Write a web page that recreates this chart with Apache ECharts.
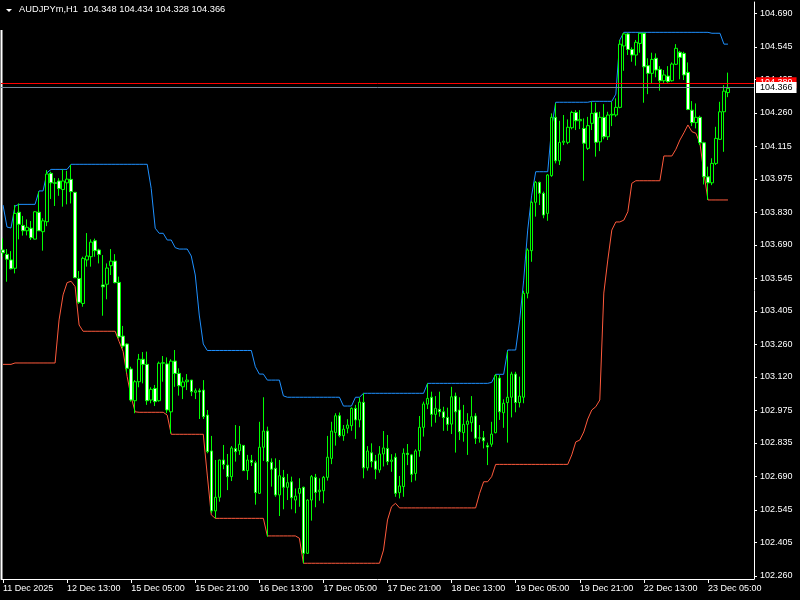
<!DOCTYPE html>
<html><head><meta charset="utf-8">
<script src="https://cdn.jsdelivr.net/npm/echarts@6/dist/echarts.min.js"></script>
<style>html,body{margin:0;padding:0;background:#000;}#c{width:800px;height:600px;}</style>
</head><body><div id="c"></div>
<script>
const symbolTitle = 'AUDJPYm,H1  104.348 104.434 104.328 104.366';
const tickLabels = ['11 Dec 2025','12 Dec 13:00','15 Dec 05:00','15 Dec 21:00','16 Dec 13:00','17 Dec 05:00','17 Dec 21:00','18 Dec 13:00','19 Dec 05:00','19 Dec 21:00','22 Dec 13:00','23 Dec 05:00'];
const yTickValues = [102.260,102.405,102.545,102.690,102.835,102.975,103.120,103.260,103.405,103.545,103.690,103.830,103.975,104.115,104.260,104.405,104.545,104.690];
const bidPrice = 104.366;
const askPrice = 104.389;

const opens = [103.668,103.649,103.625,103.589,103.831,103.774,103.751,103.762,103.715,103.831,103.747,103.790,103.999,103.958,103.966,103.929,103.958,103.973,103.917,103.545,
103.437,103.625,103.639,103.708,103.668,103.517,103.520,103.600,103.620,103.528,103.296,103.262,103.154,103.017,103.099,103.196,103.174,103.020,103.070,103.017,
103.179,103.176,102.969,103.188,103.135,103.077,103.099,103.106,103.053,103.060,103.063,102.955,102.800,102.541,102.600,102.761,102.739,102.689,102.811,102.801,
102.824,102.715,102.760,102.749,102.617,102.816,102.886,102.751,102.725,102.610,102.686,102.643,102.667,102.588,102.617,102.643,102.358,102.588,102.686,102.624,
102.628,102.686,102.768,102.880,102.952,102.866,102.898,102.909,102.984,102.934,103.010,102.727,102.792,102.757,102.718,102.787,102.811,102.755,102.773,102.620,
102.646,102.790,102.783,102.703,102.801,102.902,103.002,103.032,102.958,102.980,102.969,102.945,102.916,103.037,102.977,102.879,102.915,102.922,102.951,102.855,
102.857,102.823,102.829,102.879,103.115,102.965,103.009,103.032,103.132,103.009,103.032,103.481,103.665,103.874,103.960,103.913,103.826,103.989,104.241,104.053,
104.133,104.133,104.196,104.262,104.226,104.193,104.107,104.215,104.261,104.135,104.241,104.157,104.251,104.251,104.284,104.549,104.601,104.534,104.510,104.560,
104.604,104.464,104.431,104.496,104.448,104.399,104.419,104.399,104.470,104.522,104.517,104.435,104.272,104.218,104.241,104.131,103.984,103.958,104.042,104.146,
104.265,104.348];
const highs = [103.718,103.672,103.663,103.862,103.869,103.815,103.800,103.793,103.836,103.920,103.805,104.013,104.006,103.979,103.978,104.016,104.010,104.036,103.918,103.577,
103.639,103.741,103.714,103.717,103.673,103.646,103.610,103.672,103.650,103.553,103.340,103.265,103.164,103.106,103.219,103.227,103.229,103.075,103.085,103.186,
103.210,103.204,103.196,103.236,103.157,103.118,103.132,103.107,103.070,103.070,103.106,102.977,102.865,102.761,102.762,102.826,102.787,102.821,102.912,102.908,
102.825,102.783,102.783,102.758,102.926,103.032,102.905,102.768,102.768,102.761,102.718,102.701,102.689,102.638,102.682,102.646,102.591,102.696,102.701,102.682,
102.692,102.865,102.926,102.963,102.966,102.912,102.937,102.988,102.999,103.030,103.049,102.821,102.833,102.783,102.821,102.886,102.869,102.786,102.790,102.692,
102.811,102.830,102.787,102.807,102.951,103.013,103.092,103.056,103.037,103.056,102.991,102.987,103.077,103.052,103.032,102.999,102.963,103.037,102.963,102.912,
102.886,102.836,102.926,103.132,103.128,103.023,103.229,103.142,103.142,103.121,103.492,103.675,103.881,103.966,103.963,103.920,103.996,104.258,104.301,104.226,
104.251,104.232,104.269,104.272,104.272,104.236,104.243,104.308,104.304,104.265,104.298,104.265,104.308,104.323,104.575,104.606,104.606,104.543,104.575,104.606,
104.606,104.496,104.520,104.517,104.462,104.445,104.462,104.478,104.557,104.528,104.524,104.478,104.311,104.301,104.248,104.135,104.028,104.064,104.200,104.308,
104.380,104.434];
const lows = [103.639,103.531,103.584,103.567,103.714,103.730,103.731,103.711,103.714,103.750,103.665,103.771,103.888,103.858,103.902,103.855,103.865,103.869,103.547,103.435,
103.423,103.596,103.596,103.639,103.610,103.384,103.455,103.560,103.524,103.286,103.243,103.138,103.013,102.963,103.075,103.092,102.999,103.006,102.994,103.013,
103.099,102.963,102.876,103.077,103.039,103.024,103.063,103.037,103.024,102.938,102.938,102.790,102.531,102.509,102.581,102.721,102.631,102.670,102.754,102.783,
102.714,102.675,102.735,102.568,102.614,102.757,102.430,102.646,102.602,102.519,102.548,102.588,102.548,102.531,102.559,102.315,102.355,102.499,102.557,102.585,
102.574,102.672,102.743,102.823,102.859,102.844,102.876,102.887,102.852,102.902,102.682,102.715,102.729,102.678,102.706,102.733,102.739,102.710,102.602,102.595,
102.602,102.739,102.665,102.672,102.775,102.862,102.981,102.905,102.922,102.948,102.887,102.887,102.873,102.793,102.847,102.840,102.783,102.883,102.830,102.836,
102.811,102.739,102.818,102.876,102.934,102.900,102.836,102.945,102.967,102.988,103.006,103.459,103.617,103.812,103.862,103.805,103.794,103.984,104.042,104.035,
104.121,104.125,104.189,104.186,104.190,103.967,104.100,104.186,104.071,104.095,104.146,104.143,104.203,104.243,104.280,104.442,104.510,104.481,104.464,104.520,
104.304,104.341,104.388,104.414,104.356,104.390,104.390,104.395,104.467,104.405,104.402,104.272,104.203,104.193,104.121,103.951,103.884,103.948,104.035,104.143,
104.092,104.328];
const closes = [103.656,103.628,103.587,103.826,103.779,103.751,103.766,103.721,103.833,103.751,103.794,103.996,103.958,103.956,103.933,103.966,103.974,103.920,103.548,103.442,
103.632,103.642,103.702,103.665,103.649,103.509,103.590,103.620,103.527,103.293,103.253,103.157,103.020,103.099,103.196,103.174,103.017,103.066,103.013,103.179,
103.181,102.977,103.188,103.135,103.082,103.098,103.106,103.056,103.060,103.055,102.948,102.797,102.541,102.600,102.761,102.742,102.689,102.813,102.797,102.829,
102.715,102.761,102.751,102.620,102.816,102.886,102.754,102.721,102.610,102.693,102.643,102.663,102.598,102.605,102.638,102.358,102.588,102.689,102.621,102.631,
102.686,102.773,102.886,102.952,102.866,102.894,102.912,102.984,102.934,103.011,102.727,102.800,102.754,102.721,102.787,102.813,102.754,102.761,102.617,102.649,
102.790,102.785,102.699,102.800,102.902,103.003,103.027,102.958,102.984,102.969,102.944,102.915,103.034,102.969,102.883,102.915,102.929,102.948,102.855,102.857,
102.844,102.817,102.873,103.125,102.969,103.006,103.032,103.132,103.009,103.037,103.481,103.668,103.874,103.960,103.913,103.819,103.992,104.241,104.053,104.133,
104.138,104.198,104.262,104.226,104.232,104.129,104.205,104.258,104.133,104.241,104.157,104.251,104.254,104.284,104.557,104.601,104.534,104.510,104.565,104.604,
104.459,104.431,104.491,104.445,104.399,104.424,104.395,104.471,104.539,104.500,104.424,104.275,104.218,104.241,104.131,103.984,103.958,104.042,104.150,104.265,
104.354,104.366];
const upperBand = [103.862,103.767,103.763,103.858,103.865,103.865,103.865,103.865,103.865,103.923,103.923,104.002,104.016,104.016,104.016,104.016,104.016,104.038,104.038,104.038,
104.038,104.038,104.038,104.038,104.038,104.038,104.038,104.038,104.038,104.038,104.038,104.038,104.038,104.038,104.038,104.038,104.038,103.934,103.762,103.740,
103.740,103.711,103.711,103.678,103.672,103.672,103.672,103.642,103.560,103.387,103.262,103.234,103.234,103.234,103.234,103.234,103.234,103.234,103.234,103.234,
103.234,103.234,103.234,103.164,103.132,103.132,103.106,103.106,103.106,103.106,103.038,103.032,103.032,103.032,103.032,103.032,103.032,103.032,103.032,103.032,
103.032,103.032,103.032,103.032,103.032,102.994,102.994,102.994,103.032,103.032,103.049,103.049,103.049,103.049,103.049,103.049,103.049,103.049,103.049,103.049,
103.049,103.049,103.049,103.049,103.049,103.049,103.092,103.092,103.092,103.092,103.092,103.092,103.092,103.092,103.092,103.092,103.092,103.092,103.092,103.092,
103.092,103.092,103.096,103.131,103.131,103.131,103.236,103.236,103.236,103.366,103.538,103.754,103.905,104.006,104.006,104.006,104.006,104.200,104.306,104.306,
104.306,104.306,104.306,104.306,104.306,104.306,104.306,104.310,104.310,104.310,104.310,104.310,104.310,104.341,104.575,104.608,104.608,104.608,104.608,104.608,
104.608,104.608,104.608,104.608,104.608,104.608,104.608,104.608,104.608,104.608,104.608,104.608,104.608,104.608,104.608,104.608,104.608,104.604,104.604,104.604,
104.557,104.557];
const lowerBand = [103.174,103.174,103.174,103.180,103.180,103.180,103.180,103.180,103.180,103.180,103.180,103.180,103.180,103.180,103.366,103.474,103.527,103.533,103.510,103.344,
103.317,103.317,103.317,103.317,103.317,103.317,103.317,103.317,103.317,103.272,103.229,103.121,103.032,102.969,102.967,102.967,102.967,102.967,102.967,102.967,
102.967,102.955,102.872,102.872,102.872,102.872,102.872,102.872,102.872,102.872,102.872,102.696,102.524,102.509,102.509,102.509,102.509,102.509,102.509,102.509,
102.509,102.509,102.509,102.509,102.509,102.509,102.433,102.433,102.433,102.433,102.433,102.433,102.433,102.433,102.423,102.315,102.315,102.315,102.315,102.315,
102.315,102.315,102.315,102.315,102.315,102.315,102.315,102.315,102.315,102.315,102.315,102.315,102.315,102.315,102.315,102.372,102.502,102.559,102.574,102.554,
102.554,102.554,102.554,102.554,102.554,102.554,102.554,102.554,102.554,102.554,102.554,102.554,102.554,102.554,102.554,102.554,102.554,102.554,102.554,102.617,
102.667,102.667,102.689,102.742,102.742,102.742,102.742,102.742,102.742,102.742,102.742,102.742,102.742,102.742,102.742,102.742,102.742,102.742,102.742,102.742,
102.742,102.742,102.783,102.839,102.847,102.882,102.938,102.977,102.991,103.020,103.482,103.625,103.754,103.789,103.789,103.797,103.833,103.956,103.967,103.967,
103.967,103.967,103.967,103.967,103.967,104.074,104.074,104.074,104.103,104.143,104.174,104.208,104.179,104.172,104.129,104.000,103.884,103.884,103.884,103.884,
103.884,103.884];

// hourly bar times (broker time), weekends skipped
const categories = [];
(function(){
  const MON = ['Jan','Feb','Mar','Apr','May','Jun','Jul','Aug','Sep','Oct','Nov','Dec'];
  let t = Date.UTC(2025, 11, 11, 21);
  const totalSlots = opens.length + 6;
  while (categories.length < totalSlots) {
    const d = new Date(t);
    const wd = d.getUTCDay();
    if (wd !== 0 && wd !== 6) {
      categories.push(d.getUTCDate() + ' ' + MON[d.getUTCMonth()] + ' ' + String(d.getUTCHours()).padStart(2,'0') + ':00');
    }
    t += 3600000;
  }
})();

const ohlc = opens.map((o, i) => [o, closes[i], lows[i], highs[i]]);
const FONT = 'Liberation Sans';
const chart = echarts.init(document.getElementById('c'), null, {renderer: 'canvas'});
chart.setOption({
  backgroundColor: '#000000',
  animation: false,
  grid: {left: 1, right: 46, top: 2, bottom: 21},
  xAxis: {
    type: 'category', data: categories, boundaryGap: true,
    axisLine: {show: true, lineStyle: {color: '#FFFFFF', width: 1}},
    axisTick: {show: true, alignWithLabel: true, length: 4, interval: (i) => i % 16 === 0, lineStyle: {color: '#FFFFFF'}},
    axisLabel: {show: true, interval: (i) => i % 16 === 0, align: 'left', margin: 5, color: '#FFFFFF', fontSize: 9, fontFamily: FONT,
      formatter: (v, i) => tickLabels[Math.round(i / 16)] || ''},
    splitLine: {show: false}
  },
  yAxis: {
    type: 'value', position: 'right', scale: true, min: 102.247, max: 104.739,
    axisLine: {show: true, lineStyle: {color: '#FFFFFF', width: 1}},
    axisTick: {show: true, inside: false, length: 3, customValues: yTickValues, lineStyle: {color: '#FFFFFF'}},
    axisLabel: {show: true, customValues: yTickValues, margin: 6, color: '#FFFFFF', fontSize: 9, fontFamily: FONT,
      formatter: (v) => v.toFixed(3)},
    splitLine: {show: false}
  },
  series: [
    {
      type: 'candlestick', data: ohlc, barWidth: 3,
      itemStyle: {color: '#000000', color0: '#FFFFFF', borderColor: '#00FF00', borderColor0: '#00FF00', borderWidth: 1},
      markLine: {
        silent: true, symbol: ['none', 'none'], animation: false,
        data: [
          {yAxis: askPrice, lineStyle: {color: '#FF0000', width: 1, type: 'solid'},
            label: {show: true, position: 'end', distance: 2, formatter: askPrice.toFixed(3), color: '#FFFFFF', backgroundColor: '#FF0000', padding: [1, 4, 1, 4], fontSize: 9, fontFamily: FONT}},
          {yAxis: bidPrice, lineStyle: {color: '#778899', width: 1, type: 'solid'},
            label: {show: true, position: 'end', distance: 2, formatter: bidPrice.toFixed(3), color: '#000000', backgroundColor: '#FFFFFF', padding: [1, 4, 1, 4], fontSize: 9, fontFamily: FONT}}
        ]
      },
      z: 3
    },
    {type: 'line', data: upperBand, symbol: 'none', lineStyle: {color: '#1E90FF', width: 1}, z: 2},
    {type: 'line', data: lowerBand, symbol: 'none', lineStyle: {color: '#FF5A3C', width: 1}, z: 2}
  ],
  graphic: [
    {type: 'polygon', shape: {points: [[6, 9], [12, 9], [9, 12]]}, style: {fill: '#FFFFFF'}},
    {type: 'text', left: 19, top: 5, style: {text: symbolTitle, fill: '#FFFFFF', font: '9.3px "Liberation Sans"'}},
    {type: 'line', shape: {x1: 1.5, y1: 30, x2: 1.5, y2: 579}, style: {stroke: '#FFFFFF', lineWidth: 2}}
  ]
});
</script>
</body></html>
